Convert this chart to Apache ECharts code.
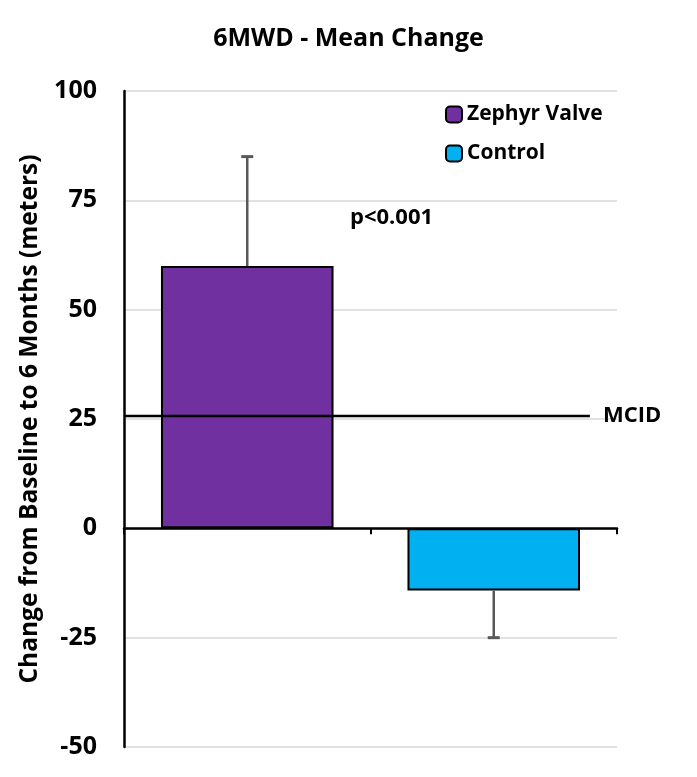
<!DOCTYPE html>
<html>
<head>
<meta charset="utf-8">
<script src="https://cdn.jsdelivr.net/npm/echarts@6/dist/echarts.min.js"></script>
<style>html,body{margin:0;padding:0;background:#fff;}#c{width:697px;height:777px;}</style>
</head>
<body>
<div id="c"></div>
<script>
const categories = ['Zephyr Valve', 'Control'];
const zephyrValues = [60, '-'];
const controlValues = ['-', -14.2];
// [category index, bar end, error bar end]
const errorBars = [[0, 60, 85], [1, -14.2, -25]];
const mcidValue = 25.7;
const mcidSpan = [0, 0.945];
const yTicks = { min: -50, max: 100, interval: 25 };

const FONT = 'Open Sans';
const chart = echarts.init(document.getElementById('c'));
chart.setOption({
  animation: false,
  backgroundColor: '#fff',
  title: {
    text: '6MWD - Mean Change',
    left: 'center', top: 21,
    textStyle: { fontFamily: FONT, fontWeight: 'bold', fontSize: 25, color: '#000' }
  },
  legend: {
    data: categories,
    orient: 'vertical',
    left: 445, top: 104, padding: 0,
    itemWidth: 16, itemHeight: 16, itemGap: 18,
    textStyle: { fontFamily: FONT, fontWeight: 'bold', fontSize: 21, color: '#000' }
  },
  grid: { left: 124, right: 80, top: 91, bottom: 30, containLabel: false },
  xAxis: [{
    type: 'category',
    data: categories,
    axisLine: { onZero: true, lineStyle: { color: '#000', width: 2.5 } },
    axisTick: { show: true, length: 6, lineStyle: { color: '#000', width: 2 } },
    axisLabel: { show: false },
    splitLine: { show: false }
  }, {
    type: 'value', min: 0, max: 1, show: false
  }],
  yAxis: {
    type: 'value',
    min: yTicks.min, max: yTicks.max, interval: yTicks.interval,
    name: 'Change from Baseline to 6 Months (meters)',
    nameLocation: 'middle', nameGap: 81,
    nameTextStyle: { fontFamily: FONT, fontWeight: 'bold', fontSize: 24.5, color: '#000' },
    axisLine: { show: true, lineStyle: { color: '#000', width: 2.5 } },
    axisTick: { show: false },
    axisLabel: { fontFamily: FONT, fontWeight: 'bold', fontSize: 25, color: '#000', margin: 27 },
    splitLine: { lineStyle: { color: '#d9d9d9', width: 1.5 } }
  },
  series: [{
    name: 'Zephyr Valve', type: 'bar', data: zephyrValues,
    barWidth: '70%', barGap: '-100%',
    itemStyle: { color: '#7030A0', borderColor: '#000', borderWidth: 2 }
  }, {
    name: 'Control', type: 'bar', data: controlValues,
    barWidth: '70%', barGap: '-100%',
    itemStyle: { color: '#00B0F0', borderColor: '#000', borderWidth: 2 }
  }, {
    name: 'err', type: 'custom', z: 5,
    data: errorBars,
    renderItem: function (params, api) {
      const a = api.coord([api.value(0), api.value(1)]);
      const b = api.coord([api.value(0), api.value(2)]);
      return {
        type: 'group',
        children: [
          { type: 'line', shape: { x1: a[0], y1: a[1], x2: b[0], y2: b[1] }, style: { stroke: '#595959', lineWidth: 2.5 } },
          { type: 'line', shape: { x1: b[0] - 6, y1: b[1], x2: b[0] + 6, y2: b[1] }, style: { stroke: '#595959', lineWidth: 3 } }
        ]
      };
    }
  }, {
    name: 'MCID', type: 'line', xAxisIndex: 1, z: 6,
    data: [[mcidSpan[0], mcidValue], [mcidSpan[1], mcidValue]],
    symbol: 'none',
    lineStyle: { color: '#000', width: 2.5 },
    endLabel: { show: true, formatter: 'MCID', distance: 13, fontFamily: FONT, fontWeight: 'bold', fontSize: 22, color: '#000' }
  }],
  graphic: [{
    type: 'text', left: 350, top: 207,
    style: { text: 'p<0.001', fontFamily: FONT, fontWeight: 'bold', fontSize: 22, fill: '#000' }
  }]
});
</script>
</body>
</html>
